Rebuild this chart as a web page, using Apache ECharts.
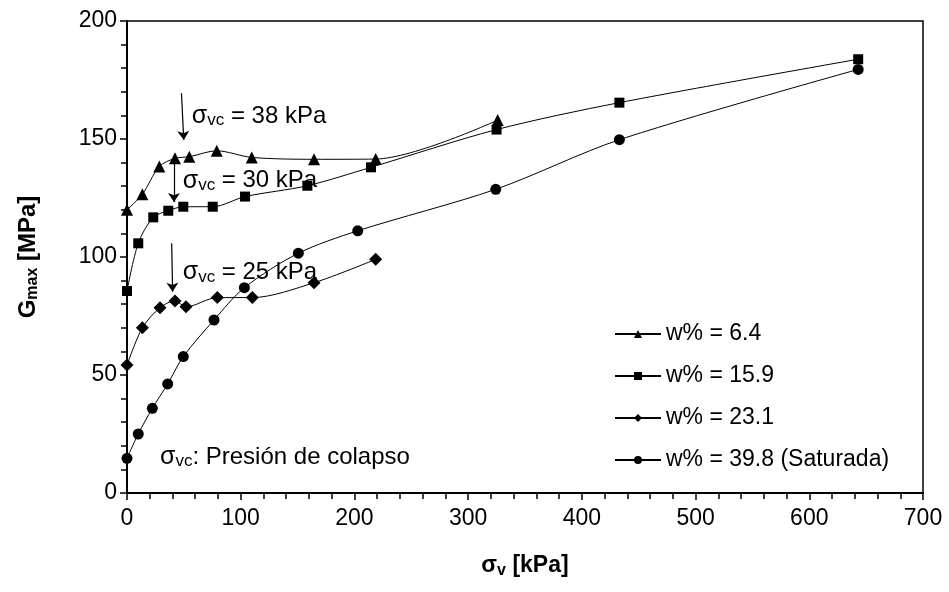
<!DOCTYPE html>
<html style="height: 100%">
<head>
    <meta charset="utf-8">
</head>
<body style="margin: 0">
<div id="container" style="width: 949px; height: 592px;"></div>
<script type="text/javascript" src="https://cdn.jsdelivr.net/npm/echarts@6/dist/echarts.min.js"></script>
<script type="text/javascript">
// datos: sigma_v [kPa] y Gmax [MPa]
var sv64  = [0, 13.5, 28.4, 42.2, 54.8, 78.9, 109.7, 164.5, 218.7, 326];
var g64   = [120, 126.6, 138.3, 141.8, 142.5, 145.0, 142.2, 141.4, 141.5, 158];

var sv159 = [0, 9.9, 23.1, 36.3, 49.5, 75.4, 103.8, 158.6, 214.6, 325, 433, 643];
var g159  = [85.6, 105.8, 116.8, 119.6, 121.3, 121.3, 125.6, 130.2, 138.0, 154, 165.4, 183.8];

var sv231 = [0, 13.5, 29.0, 42.2, 51.9, 79.4, 110.2, 164.5, 218.7];
var g231  = [54.2, 70.0, 78.5, 81.4, 78.9, 82.8, 82.8, 89.1, 99.0];

var sv398 = [0, 9.9, 22.3, 35.8, 49.5, 76.5, 103.2, 150.7, 202.9, 324.3, 433, 643];
var g398  = [14.7, 25.0, 35.9, 46.2, 57.8, 73.3, 87.0, 101.6, 111.1, 128.7, 149.7, 179.5];

var names = ['w% = 6.4', 'w% = 15.9', 'w% = 23.1', 'w% = 39.8 (Saturada)'];

// flechas de presion de colapso (desde, hasta)
var arrowFrom = [[47.9, 169.4], [41.3, 143.2], [39.3, 105.8]];
var arrowTo   = [[49.9, 149.6], [41.3, 123.3], [40.1, 85.3]];
// etiquetas
var noteText = ['38', '30', '25'];
var notePos  = [[57, 159.7], [49, 132.3], [49, 93.5]];
var legendNotePos = [29, 15.3];

function pairs(xs, ys) {
    var out = [];
    for (var i = 0; i < xs.length; i++) out.push([xs[i], ys[i]]);
    return out;
}

var font = 'Liberation Sans, Arial, sans-serif';
var richSigma = {
    s:   { fontFamily: font, fontSize: 25, color: '#000', lineHeight: 26, verticalAlign: 'middle' },
    sub: { fontFamily: font, fontSize: 17, color: '#000', lineHeight: 17, verticalAlign: 'bottom' },
    t:   { fontFamily: font, fontSize: 24, color: '#000', lineHeight: 26, verticalAlign: 'middle' }
};

var marks = [];
for (var i = 0; i < noteText.length; i++) {
    marks.push({
        coord: notePos[i],
        label: { formatter: '{s|σ}{sub|vc}{t| = ' + noteText[i] + ' kPa}' }
    });
}
marks.push({
    coord: legendNotePos,
    label: { formatter: '{s|σ}{sub|vc}{t|: Presión de colapso}' }
});

var arrows = [];
for (var i = 0; i < arrowFrom.length; i++) {
    arrows.push([{ coord: arrowFrom[i] }, { coord: arrowTo[i] }]);
}

var dom = document.getElementById('container');
var myChart = echarts.init(dom);

var symbols = ['triangle', 'rect', 'diamond', 'circle'];
var sizes = [12, 10, 13, 11];
var datas = [pairs(sv64, g64), pairs(sv159, g159), pairs(sv231, g231), pairs(sv398, g398)];

var series = [];
for (var k = 0; k < 4; k++) {
    series.push({
        name: names[k],
        type: 'line',
        data: datas[k],
        smooth: 0.3,
        symbol: symbols[k],
        symbolSize: sizes[k],
        showAllSymbol: true,
        itemStyle: { color: '#000' },
        lineStyle: { color: '#000', width: 1 },
        animation: false,
        z: 3
    });
}
series[0].markLine = {
    silent: true,
    symbol: ['none', 'arrow'],
    symbolSize: 9,
    label: { show: false },
    lineStyle: { color: '#000', width: 1.2, type: 'solid' },
    itemStyle: { color: '#000' },
    data: arrows,
    animation: false
};
series[0].markPoint = {
    symbol: 'circle',
    symbolSize: 0,
    silent: true,
    label: { show: true, position: 'right', distance: 0, rich: richSigma },
    data: marks,
    animation: false
};

var option = {
    backgroundColor: '#fff',
    grid: {
        left: 127, right: 26, top: 21, bottom: 99,
        show: true, borderColor: '#000', borderWidth: 1.5
    },
    legend: {
        orient: 'vertical',
        left: 614,
        top: 322,
        padding: 0,
        itemWidth: 46,
        itemHeight: 10,
        itemGap: 18,
        data: names,
        textStyle: { fontFamily: font, fontSize: 23, color: '#000', lineHeight: 24 }
    },
    xAxis: {
        type: 'value',
        min: 0, max: 700, interval: 100,
        name: '{b|σ}{bs|v}{b| [kPa]}',
        nameLocation: 'middle',
        nameGap: 60,
        nameTextStyle: {
            rich: {
                b:  { fontFamily: font, fontSize: 23, fontWeight: 'bold', color: '#000', lineHeight: 26, verticalAlign: 'middle' },
                bs: { fontFamily: font, fontSize: 16, fontWeight: 'bold', color: '#000', lineHeight: 16, verticalAlign: 'bottom' }
            }
        },
        axisLine: { lineStyle: { color: '#000', width: 2 } },
        axisTick: { length: 7, lineStyle: { color: '#000', width: 1.5 } },
        minorTick: { show: true, splitNumber: 5, length: 6, lineStyle: { color: '#000', width: 1.5 } },
        splitLine: { show: false },
        axisLabel: { fontFamily: font, fontSize: 23, color: '#000', margin: 14 }
    },
    yAxis: {
        type: 'value',
        min: 0, max: 200, interval: 50,
        name: '{b|G}{bs|max}{b| [MPa]}',
        nameLocation: 'middle',
        nameGap: 86,
        nameTextStyle: {
            rich: {
                b:  { fontFamily: font, fontSize: 24, fontWeight: 'bold', color: '#000', lineHeight: 26, verticalAlign: 'middle' },
                bs: { fontFamily: font, fontSize: 16, fontWeight: 'bold', color: '#000', lineHeight: 16, verticalAlign: 'bottom' }
            }
        },
        axisLine: { lineStyle: { color: '#000', width: 2 } },
        axisTick: { length: 7, lineStyle: { color: '#000', width: 1.5 } },
        minorTick: { show: true, splitNumber: 5, length: 6, lineStyle: { color: '#000', width: 1.5 } },
        splitLine: { show: false },
        axisLabel: { fontFamily: font, fontSize: 23, color: '#000', margin: 10 }
    },
    series: series
};

myChart.setOption(option);
</script>
</body>
</html>
